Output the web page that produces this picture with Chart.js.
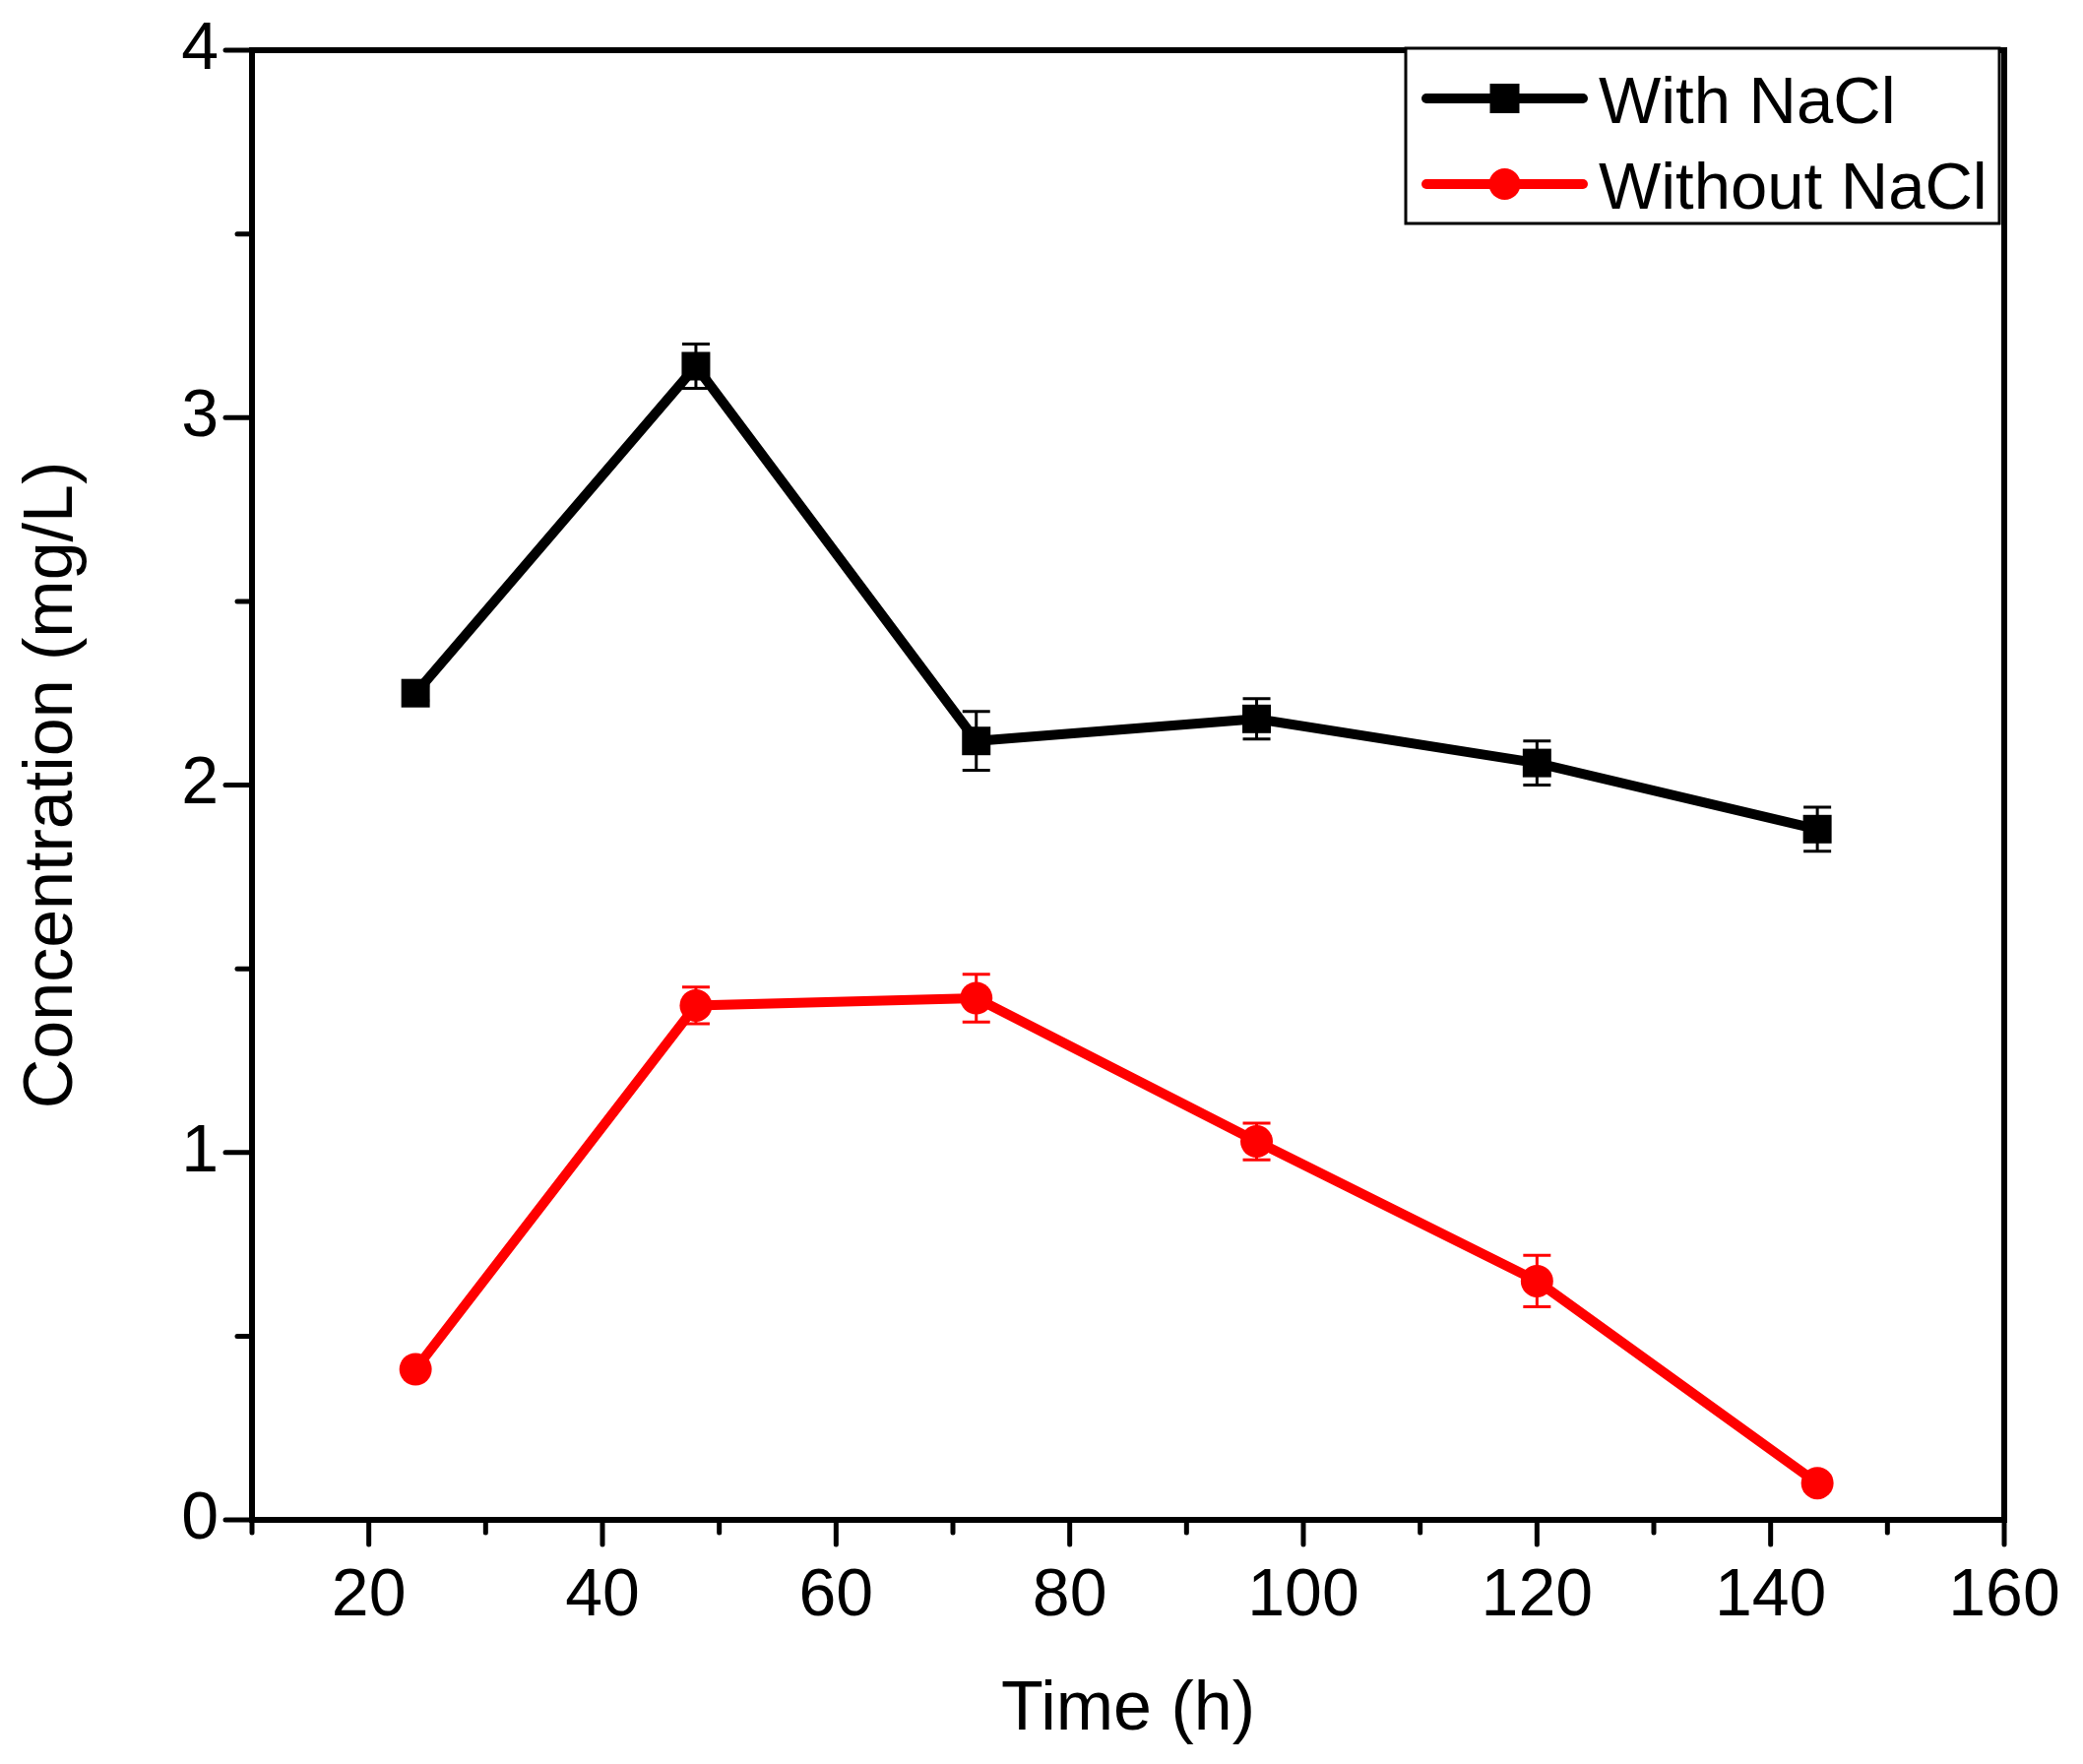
<!DOCTYPE html>
<html>
<head>
<meta charset="utf-8">
<script src="https://cdn.jsdelivr.net/npm/chart.js@4/dist/chart.umd.min.js"></script>
<style>
  html, body { margin: 0; padding: 0; background: #fff; }
  canvas { display: block; }
</style>
</head>
<body>
<canvas id="c" width="2116" height="1792"></canvas>
<script>
// values
const timeHours = [24, 48, 72, 96, 120, 144]
const withNaCl = [2.25, 3.14, 2.12, 2.18, 2.06, 1.88]
const withNaClErr = [0.02, 0.06, 0.08, 0.055, 0.06, 0.06]
const withoutNaCl = [0.41, 1.40, 1.42, 1.03, 0.65, 0.10]
const withoutNaClErr = [0.02, 0.05, 0.065, 0.05, 0.07, 0.02]
const seriesLabels = ['With NaCl', 'Without NaCl']
const seriesColors = ['#000000', '#ff0000']
const xTitle = 'Time (h)'
const yTitle = 'Concentration (mg/L)'

const FONT = "'Liberation Sans', Arial, sans-serif"

Chart.defaults.color = '#000'
Chart.defaults.font.family = FONT

const errors = [withNaClErr, withoutNaClErr]

// frame + outside ticks like the original (major long, minor short)
const framePlugin = {
  id: 'frame',
  beforeDatasetsDraw(chart) {
    const { ctx, chartArea: a, scales } = chart
    ctx.save()
    ctx.strokeStyle = '#000'
    ctx.lineWidth = 6
    ctx.strokeRect(a.left, a.top, a.right - a.left, a.bottom - a.top)

    ctx.lineWidth = 5
    ctx.lineCap = 'round'
    scales.x.ticks.forEach((t) => {
      const px = scales.x.getPixelForValue(t.value)
      const len = t.value % 20 === 0 ? 25 : 13
      ctx.beginPath()
      ctx.moveTo(px, a.bottom)
      ctx.lineTo(px, a.bottom + len)
      ctx.stroke()
    })
    scales.y.ticks.forEach((t) => {
      const py = scales.y.getPixelForValue(t.value)
      const len = t.value % 1 === 0 ? 27 : 15
      ctx.beginPath()
      ctx.moveTo(a.left, py)
      ctx.lineTo(a.left - len, py)
      ctx.stroke()
    })
    ctx.restore()
  },
}

const errorBarPlugin = {
  id: 'errorBars',
  afterDatasetsDraw(chart) {
    const { ctx, scales } = chart
    ctx.save()
    ctx.lineWidth = 3
    chart.data.datasets.forEach((ds, i) => {
      const meta = chart.getDatasetMeta(i)
      ctx.strokeStyle = ds.borderColor
      meta.data.forEach((pt, j) => {
        const v = ds.data[j].y
        const e = errors[i][j]
        const yHi = scales.y.getPixelForValue(v + e)
        const yLo = scales.y.getPixelForValue(v - e)
        ctx.beginPath()
        ctx.moveTo(pt.x, yHi)
        ctx.lineTo(pt.x, yLo)
        ctx.moveTo(pt.x - 14, yHi)
        ctx.lineTo(pt.x + 14, yHi)
        ctx.moveTo(pt.x - 14, yLo)
        ctx.lineTo(pt.x + 14, yLo)
        ctx.stroke()
      })
    })
    ctx.restore()
  },
}

// boxed legend in the top right corner of the plot
const legendBoxPlugin = {
  id: 'legendBox',
  afterDraw(chart) {
    const { ctx, chartArea: a } = chart
    const boxW = 603
    const boxH = 178
    const bx = a.right - 5 - boxW
    const by = a.top - 2
    ctx.save()
    ctx.fillStyle = '#fff'
    ctx.fillRect(bx, by, boxW, boxH)
    ctx.strokeStyle = '#000'
    ctx.lineWidth = 3
    ctx.strokeRect(bx, by, boxW, boxH)

    chart.data.datasets.forEach((ds, i) => {
      const cy = by + 51 + i * 87
      const x0 = bx + 21
      const x1 = bx + 180
      const mx = (x0 + x1) / 2
      ctx.strokeStyle = ds.borderColor
      ctx.fillStyle = ds.borderColor
      ctx.lineWidth = 10
      ctx.lineCap = 'round'
      ctx.beginPath()
      ctx.moveTo(x0, cy)
      ctx.lineTo(x1, cy)
      ctx.stroke()
      ctx.beginPath()
      if (ds.pointStyle === 'rect') {
        ctx.rect(mx - 15, cy - 15, 30, 30)
      } else {
        ctx.arc(mx, cy, 16, 0, Math.PI * 2)
      }
      ctx.fill()

      ctx.fillStyle = '#000'
      ctx.font = '67px ' + FONT
      ctx.textAlign = 'left'
      ctx.textBaseline = 'alphabetic'
      ctx.fillText(ds.label, bx + 196, cy + 25)
    })
    ctx.restore()
  },
}

const toPoints = (ys) => timeHours.map((t, i) => ({ x: t, y: ys[i] }))

new Chart(document.getElementById('c'), {
  type: 'line',
  data: {
    datasets: [
      {
        label: seriesLabels[0],
        data: toPoints(withNaCl),
        borderColor: seriesColors[0],
        backgroundColor: seriesColors[0],
        borderWidth: 10,
        pointStyle: 'rect',
        pointRadius: 20.5,
        pointBorderWidth: 0,
        pointHoverRadius: 20.5,
      },
      {
        label: seriesLabels[1],
        data: toPoints(withoutNaCl),
        borderColor: seriesColors[1],
        backgroundColor: seriesColors[1],
        borderWidth: 10,
        pointStyle: 'circle',
        pointRadius: 16.5,
        pointBorderWidth: 0,
        pointHoverRadius: 16.5,
      },
    ],
  },
  options: {
    responsive: false,
    animation: false,
    devicePixelRatio: 1,
    layout: { padding: { top: 51, right: 80, left: 0, bottom: 0 } },
    plugins: {
      legend: { display: false },
      tooltip: { enabled: false },
    },
    scales: {
      x: {
        type: 'linear',
        min: 10,
        max: 160,
        grid: { display: false },
        border: { display: false },
        ticks: {
          stepSize: 10,
          autoSkip: false,
          maxRotation: 0,
          padding: 29,
          font: { size: 68 },
          callback: (v) => (v % 20 === 0 ? v : ''),
        },
        title: {
          display: true,
          text: xTitle,
          font: { size: 70 },
          padding: { top: 0, bottom: 12 },
        },
        afterFit(scale) {
          scale.height = 248
          scale.paddingLeft = 0
          scale.paddingRight = 0
        },
      },
      y: {
        min: 0,
        max: 4,
        grid: { display: false },
        border: { display: false },
        ticks: {
          stepSize: 0.5,
          autoSkip: false,
          padding: 26,
          font: { size: 68 },
          callback: (v) => (v % 1 === 0 ? v : ''),
        },
        title: {
          display: true,
          text: yTitle,
          font: { size: 70 },
          padding: { top: 12, bottom: 0 },
        },
        afterFit(scale) {
          scale.width = 256
          scale.paddingTop = 0
          scale.paddingBottom = 0
        },
      },
    },
  },
  plugins: [framePlugin, errorBarPlugin, legendBoxPlugin],
})
</script>
</body>
</html>
